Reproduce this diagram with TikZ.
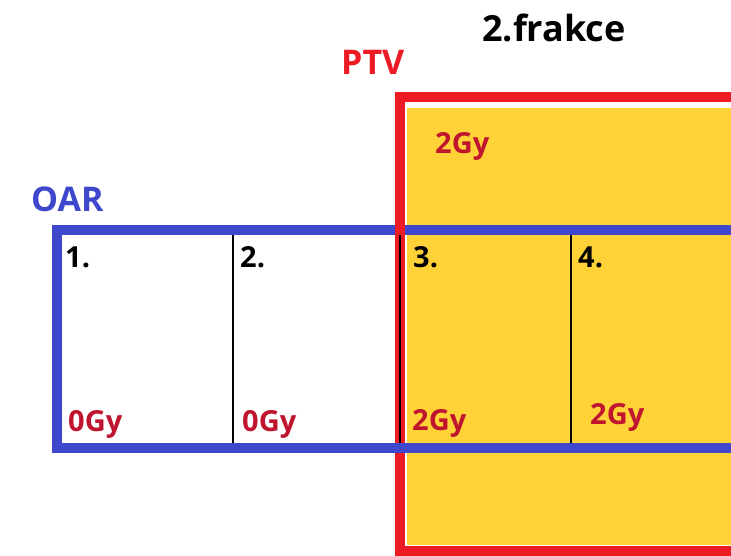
\documentclass[tikz,border=0pt]{standalone}
\usepackage{fontspec}
\setmainfont{Open Sans}
\definecolor{paintyellow}{RGB}{255,210,55}
\definecolor{paintred}{RGB}{237,28,36}
\definecolor{paintblue}{RGB}{63,72,204}
\definecolor{dosered}{RGB}{192,21,47}
\tikzset{
  lbl/.style={inner sep=0pt, anchor=base west, font=\bfseries\fontsize{29}{32}\selectfont},
  bigl/.style={inner sep=0pt, anchor=base west, font=\bfseries\fontsize{34}{37}\selectfont},
  numl/.style={lbl, text=black},
  dosel/.style={lbl, text=dosered},
  divider/.style={black, line width=1.5pt},
  boxline/.style={line width=10pt, line join=miter}
}
\begin{document}
\begin{tikzpicture}[x=1pt,y=-1pt]
\useasboundingbox (0,0) rectangle (731,556);
\clip (0,0) rectangle (731,556);
\fill[white] (0,0) rectangle (731,556);
% PTV dose area
\fill[paintyellow] (407,108) rectangle (745,545);
% OAR box
\draw[boxline, paintblue] (745,230) -- (57,230) -- (57,448) -- (745,448);
% PTV box
\draw[boxline, paintred] (745,97.5) -- (400,97.5) -- (400,551) -- (745,551);
% blue bottom edge over red
\draw[boxline, paintblue, line cap=butt] (390,448) -- (745,448);
% dividers
\coordinate (d1t) at (233,235); \coordinate (d1b) at (233,443);
\coordinate (d2t) at (400,235); \coordinate (d2b) at (400,443);
\coordinate (d3t) at (571,235); \coordinate (d3b) at (571,443);
\draw[divider] (d1t) -- (d1b);
\draw[divider] (d2t) -- (d2b);
\draw[divider] (d3t) -- (d3b);
% titles
\node[bigl, text=black, font=\bfseries\fontsize{36}{39}\selectfont] (title) at (482,42) {2.frakce};
\node[bigl, text=paintred] (ptv) at (341,75) {PTV};
\node[bigl, text=paintblue] (oar) at (31,212) {OAR};
% segment numbers
\node[numl] (n1) at (65,267) {1.};
\node[numl] (n2) at (240,267) {2.};
\node[numl] (n3) at (413,267) {3.};
\node[numl] (n4) at (578,267) {4.};
% doses
\node[dosel] (g0) at (435,154) {2Gy};
\node[dosel] (g1) at (68,431) {0Gy};
\node[dosel] (g2) at (242,431) {0Gy};
\node[dosel] (g3) at (412,430) {2Gy};
\node[dosel] (g4) at (590,424) {2Gy};
\end{tikzpicture}
\end{document}
